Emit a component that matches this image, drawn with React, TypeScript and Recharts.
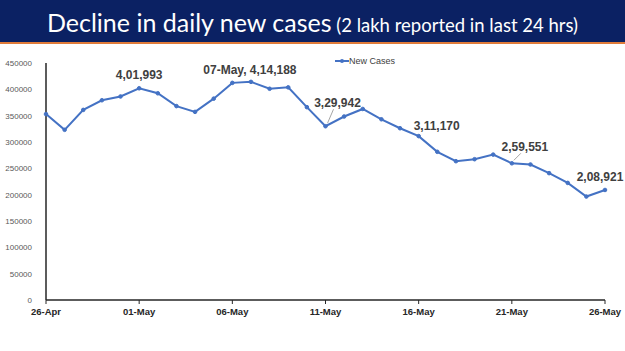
import React from "react";
import { LineChart, Line, XAxis, YAxis, LabelList } from "recharts";

const dates = [
  "26-Apr", "27-Apr", "28-Apr", "29-Apr", "30-Apr",
  "01-May", "02-May", "03-May", "04-May", "05-May", "06-May", "07-May", "08-May", "09-May", "10-May",
  "11-May", "12-May", "13-May", "14-May", "15-May", "16-May", "17-May", "18-May", "19-May", "20-May",
  "21-May", "22-May", "23-May", "24-May", "25-May", "26-May",
];
const newCases = [
  352991, 323144, 360960, 379257, 386452,
  401993, 392488, 368147, 357229, 382315, 412262, 414188, 401078, 403738, 366161,
  329942, 348421, 362727, 343144, 326098, 311170, 281386, 263533, 267334, 276070,
  259551, 257299, 240842, 222315, 196427, 208921,
];
const yTicks = [0, 50000, 100000, 150000, 200000, 250000, 300000, 350000, 400000, 450000];
const xTicks = ["26-Apr", "01-May", "06-May", "11-May", "16-May", "21-May", "26-May"];
const annotationDates = ["01-May", "07-May", "11-May", "16-May", "21-May", "26-May"];
const annotationTexts = ["4,01,993", "07-May, 4,14,188", "3,29,942", "3,11,170", "2,59,551", "2,08,921"];

const data = dates.map((d, i) => ({ date: d, cases: newCases[i] }));

// style: label offsets (dx, dy of text centre) and optional leader lines
const labelStyle: Record<string, { dx: number; dy: number; leader?: boolean }> = {
  "01-May": { dx: 0, dy: -13 },
  "07-May": { dx: -1, dy: -12 },
  "11-May": { dx: 12, dy: -23, leader: true },
  "16-May": { dx: 18, dy: -10 },
  "21-May": { dx: 13, dy: -16, leader: true },
  "26-May": { dx: -5, dy: -13 },
};

const AnnotationLabel = (props: any) => {
  const { x, y, index } = props;
  const d = dates[index];
  const k = annotationDates.indexOf(d);
  if (k < 0) return null;
  const s = labelStyle[d];
  const cx = x + s.dx;
  const cy = y + s.dy;
  return (
    <g>
      {s.leader && (
        <line x1={x + 2} y1={y - 3} x2={cx - 4} y2={cy + 6} stroke="#a6a6a6" strokeWidth={1} />
      )}
      <text
        x={cx}
        y={cy}
        textAnchor="middle"
        dominantBaseline="central"
        fontFamily="'Liberation Sans', Arial, sans-serif"
        fontWeight="bold"
        fontSize={12}
        fill="#404040"
      >
        {annotationTexts[k]}
      </text>
    </g>
  );
};

export default function App() {
  return (
    <div style={{ position: "absolute", left: 0, top: 0, width: 625, height: 351, background: "#fff", overflow: "hidden" }}>
      <div
        style={{
          position: "absolute",
          left: 0,
          top: 0,
          width: 625,
          height: 42,
          background: "#0b2163",
          borderBottom: "2px solid #e07b39",
          color: "#fff",
          fontFamily: "Lato, 'Noto Sans', sans-serif",
          textAlign: "center",
          whiteSpace: "nowrap",
          lineHeight: "44px",
        }}
      >
        <span style={{ fontSize: 25 }}>Decline in daily new cases</span>
        <span style={{ fontSize: 18.5 }}> (2 lakh reported in last 24 hrs)</span>
      </div>
      <div style={{ position: "absolute", left: 0, top: 0 }}>
        <LineChart width={625} height={351} data={data} margin={{ top: 63, right: 20, bottom: 21, left: 0 }}>
          <XAxis
            dataKey="date"
            ticks={xTicks}
            interval={0}
            height={30}
            tickSize={4}
            axisLine={{ stroke: "#262626", strokeWidth: 1.5 }}
            tickLine={{ stroke: "#262626" }}
            tick={{ fontSize: 9.5, fontWeight: "bold", fill: "#262626", fontFamily: "'Liberation Sans', Arial, sans-serif" }}
            tickMargin={4}
          />
          <YAxis
            width={46}
            domain={[0, 450000]}
            ticks={yTicks}
            interval={0}
            tickLine={false}
            axisLine={{ stroke: "#262626", strokeWidth: 1.5 }}
            tick={{ fontSize: 8, fill: "#595959", fontFamily: "'Liberation Sans', Arial, sans-serif" }}
            tickMargin={8}
          />
          <Line
            type="linear"
            dataKey="cases"
            name="New Cases"
            stroke="#4472c4"
            strokeWidth={2}
            dot={{ r: 1.8, fill: "#4472c4", stroke: "#4472c4", strokeWidth: 1 }}
            isAnimationActive={false}
          >
            <LabelList dataKey="cases" content={AnnotationLabel} />
          </Line>
        </LineChart>
      </div>
      <div style={{ position: "absolute", left: 335, top: 55, height: 12, display: "flex", alignItems: "center", fontFamily: "'Liberation Sans', Arial, sans-serif", fontSize: 9, color: "#404040" }}>
        <svg width={14} height={8}>
          <line x1={0} y1={4} x2={14} y2={4} stroke="#4472c4" strokeWidth={2} />
          <circle cx={7} cy={4} r={2} fill="#4472c4" />
        </svg>
        <span style={{ marginLeft: 0 }}>New Cases</span>
      </div>
    </div>
  );
}
